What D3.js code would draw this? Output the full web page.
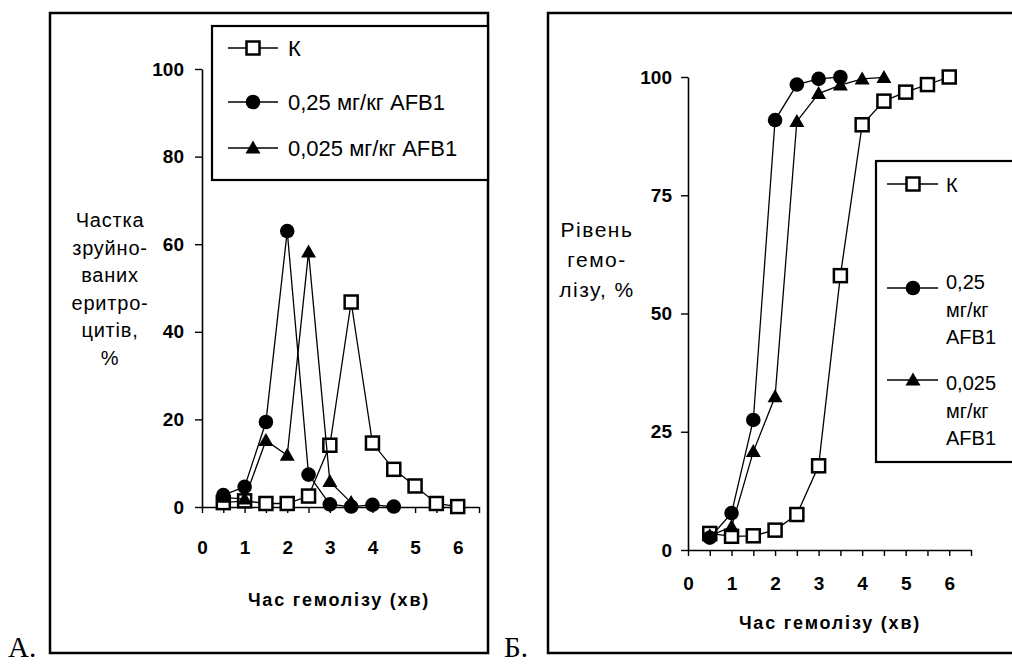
<!DOCTYPE html>
<html>
<head>
<meta charset="utf-8">
<script src="https://cdn.jsdelivr.net/npm/d3@7"></script>
<style>
  body { margin: 0; background: #fff; }
  svg { display: block; font-family: "Liberation Sans", Arial, sans-serif; }
</style>
</head>
<body>
<svg id="chart" width="1012" height="664"></svg>
<script>
// дані
const timeA = [0.5, 1, 1.5, 2, 2.5, 3, 3.5, 4, 4.5, 5, 5.5, 6];
const destroyedK = [1.0, 1.4, 0.8, 0.8, 2.5, 14.1, 46.8, 14.6, 8.6, 4.8, 0.8, 0.1];
const destroyed025 = [2.7, 4.6, 19.4, 63.0, 7.4, 0.6, 0.1, 0.5, 0.1];
const destroyed0025 = [2.2, 1.8, 15.2, 11.8, 58.2, 5.8, 1.0];

const hemolysisK = [3.5, 2.9, 3.0, 4.2, 7.5, 17.8, 58.0, 89.9, 94.9, 96.8, 98.4, 100];
const hemolysis025 = [2.6, 7.8, 27.5, 90.9, 98.4, 99.6, 100];
const hemolysis0025 = [3.0, 4.9, 20.8, 32.4, 90.6, 96.5, 98.3, 99.6, 99.9];

const seriesNames = ["К", "0,25 мг/кг AFB1", "0,025 мг/кг AFB1"];
const seriesLinesB = [["К"], ["0,25", "мг/кг", "AFB1"], ["0,025", "мг/кг", "AFB1"]];
const markers = ["square", "circle", "triangle"];

const yTicksA = [0, 20, 40, 60, 80, 100];
const yTicksB = [0, 25, 50, 75, 100];
const xTicks = [0, 0.5, 1, 1.5, 2, 2.5, 3, 3.5, 4, 4.5, 5, 5.5, 6, 6.5];
const xTitle = "Час гемолізу (хв)";
const yTitleA = ["Частка", "зруйно-", "ваних", "еритро-", "цитів,", "%"];
const yTitleB = ["Рівень", "гемо-", "лізу, %"];

const svg = d3.select("#chart");

function drawMarker(g, type, x, y) {
    if (type === "square") {
        g.append("rect")
            .attr("x", x - 6.5).attr("y", y - 6.5)
            .attr("width", 13).attr("height", 13)
            .attr("fill", "#fff").attr("stroke", "#000").attr("stroke-width", 2.5);
    } else if (type === "circle") {
        g.append("circle")
            .attr("cx", x).attr("cy", y).attr("r", 7.3)
            .attr("fill", "#000");
    } else {
        g.append("path")
            .attr("d", `M${x},${y - 7.5}L${x + 7.5},${y + 5.5}L${x - 7.5},${y + 5.5}Z`)
            .attr("fill", "#000");
    }
}

function drawSeries(g, x, y, xs, ys, type) {
    const pts = ys.map((v, i) => [x(xs[i]), y(v)]);
    g.append("path")
        .attr("d", d3.line()(pts))
        .attr("fill", "none").attr("stroke", "#000").attr("stroke-width", 1.3);
    pts.forEach(p => drawMarker(g, type, p[0], p[1]));
}

function drawAxes(g, x, y, yTicks, xPad, yPad) {
    const xa = g.append("g")
        .attr("transform", `translate(0,${y(0)})`)
        .call(d3.axisBottom(x).tickValues(xTicks).tickSize(6).tickSizeOuter(0).tickPadding(xPad)
            .tickFormat(d => Number.isInteger(d) ? d : ""));
    const ya = g.append("g")
        .attr("transform", `translate(${x(0)},0)`)
        .call(d3.axisLeft(y).tickValues(yTicks).tickSize(7).tickSizeOuter(0).tickPadding(yPad));
    [xa, ya].forEach(a => {
        a.select(".domain").attr("stroke-width", 1.6);
        a.selectAll(".tick line").attr("stroke-width", 1.4);
        a.selectAll("text")
            .attr("font-family", "Liberation Sans, Arial, sans-serif")
            .attr("font-size", 19).attr("font-weight", "bold").attr("fill", "#000");
    });
}

// ---------- А ----------
const gA = svg.append("g");
gA.append("rect").attr("x", 50).attr("y", 13).attr("width", 438).attr("height", 640)
    .attr("fill", "none").attr("stroke", "#000").attr("stroke-width", 2.5);

const xA = d3.scaleLinear().domain([0, 6.5]).range([202, 479]);
const yA = d3.scaleLinear().domain([0, 100]).range([507, 69]);
drawAxes(gA, xA, yA, yTicksA, 28, 11);

drawSeries(gA, xA, yA, timeA, destroyedK, "square");
drawSeries(gA, xA, yA, timeA, destroyed025, "circle");
drawSeries(gA, xA, yA, timeA, destroyed0025, "triangle");

gA.append("text").attr("x", 339).attr("y", 606).attr("text-anchor", "middle")
    .attr("font-size", 18).attr("letter-spacing", 1.8).attr("font-weight", "bold").text(xTitle);
gA.append("g").selectAll("text").data(yTitleA).join("text")
    .attr("x", 110).attr("y", (d, i) => 227 + i * 27.5)
    .attr("text-anchor", "middle").attr("font-size", 20).attr("letter-spacing", 0.8).text(d => d);

// легенда А
const legA = gA.append("g");
legA.append("rect").attr("x", 212).attr("y", 26).attr("width", 276).attr("height", 154)
    .attr("fill", "#fff").attr("stroke", "#000").attr("stroke-width", 2.2);
[48, 102, 148].forEach((ly, i) => {
    legA.append("line").attr("x1", 228).attr("x2", 278).attr("y1", ly).attr("y2", ly)
        .attr("stroke", "#000").attr("stroke-width", 1.3);
    drawMarker(legA, markers[i], 253, ly);
    legA.append("text").attr("x", 288).attr("y", ly + 8).attr("font-size", 22).text(seriesNames[i]);
});

// ---------- Б ----------
const gB = svg.append("g");
gB.append("rect").attr("x", 548).attr("y", 13).attr("width", 470).attr("height", 640)
    .attr("fill", "none").attr("stroke", "#000").attr("stroke-width", 2.5);

const xB = d3.scaleLinear().domain([0, 6.5]).range([688, 971]);
const yB = d3.scaleLinear().domain([0, 100]).range([550, 77]);
drawAxes(gB, xB, yB, yTicksB, 21, 9);

drawSeries(gB, xB, yB, timeA, hemolysisK, "square");
drawSeries(gB, xB, yB, timeA, hemolysis025, "circle");
drawSeries(gB, xB, yB, timeA, hemolysis0025, "triangle");

gB.append("text").attr("x", 830).attr("y", 629).attr("text-anchor", "middle")
    .attr("font-size", 18).attr("letter-spacing", 1.8).attr("font-weight", "bold").text(xTitle);
gB.append("g").selectAll("text").data(yTitleB).join("text")
    .attr("x", 597).attr("y", (d, i) => 237 + i * 30)
    .attr("text-anchor", "middle").attr("font-size", 21).attr("letter-spacing", 1.5).text(d => d);

// легенда Б
const legB = gB.append("g");
legB.append("rect").attr("x", 876).attr("y", 161).attr("width", 140).attr("height", 301)
    .attr("fill", "#fff").attr("stroke", "#000").attr("stroke-width", 2.2);
const legLineY = [184, 288, 380];
const legTextY = [185, 282, 383];
legLineY.forEach((ly, i) => {
    legB.append("line").attr("x1", 887).attr("x2", 938).attr("y1", ly).attr("y2", ly)
        .attr("stroke", "#000").attr("stroke-width", 1.3);
    drawMarker(legB, markers[i], 913, ly);
    seriesLinesB[i].forEach((t, j) => {
        legB.append("text").attr("x", 946).attr("y", legTextY[i] + 7 + j * 27.5)
            .attr("font-size", 20).text(t);
    });
});

// підписи панелей
svg.append("text").attr("x", 8).attr("y", 657).attr("font-family", "Liberation Serif, Times New Roman, serif")
    .attr("font-size", 29).text("А.");
svg.append("text").attr("x", 504).attr("y", 657).attr("font-family", "Liberation Serif, Times New Roman, serif")
    .attr("font-size", 29).text("Б.");
</script>
</body>
</html>
